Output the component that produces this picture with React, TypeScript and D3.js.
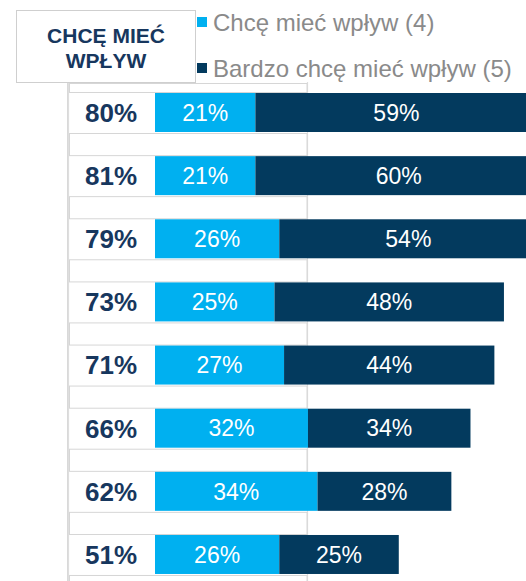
import React from "react";
import * as d3 from "d3";

const categories = ["r1", "r2", "r3", "r4", "r5", "r6", "r7", "r8"];
const totals = [80, 81, 79, 73, 71, 66, 62, 51];
const want = [21, 21, 26, 25, 27, 32, 34, 26];
const stronglyWant = [59, 60, 54, 48, 44, 34, 28, 25];
const seriesNames = ["Chcę mieć wpływ (4)", "Bardzo chcę mieć wpływ (5)"];
const headerLines = ["CHCĘ MIEĆ", "WPŁYW"];
const gridValues = [-18.2, 31.8];

const W = 526;
const H = 581;
const LIGHT = "#00B0F0";
const DARK = "#033A5E";
const NAVY = "#17375E";
const BORDER = "#d6d6d6";
const FONT = "'Liberation Sans', Arial, sans-serif";

export default function App() {
  const step = 63.14;
  const barH = 39;
  const gap = step - barH;
  const firstTop = 93;
  const y = d3
    .scaleBand<string>()
    .domain(categories)
    .range([firstTop - gap / 2, firstTop - gap / 2 + step * categories.length])
    .paddingInner(gap / step)
    .paddingOuter(gap / step / 2);

  const x = d3.scaleLinear().domain([0, 100]).range([155, 155 + 478]);
  const boxLeft = 69.5;
  const boxRight = x(31.8);
  const bw = y.bandwidth();

  return (
    <svg
      width={W}
      height={H}
      style={{ position: "absolute", left: 0, top: 0, background: "#fff" }}
      fontFamily={FONT}
    >
      <rect x={0} y={0} width={W} height={H} fill="#fff" />
      {gridValues.map((g, i) => (
        <line
          key={i}
          x1={Math.round(x(g)) + 0.5}
          x2={Math.round(x(g)) + 0.5}
          y1={82}
          y2={H}
          stroke="#dedede"
          strokeWidth={1.2}
        />
      ))}
      <rect
        x={boxLeft}
        y={83.5}
        width={boxRight - boxLeft}
        height={firstTop - 84}
        fill="#fff"
        stroke={BORDER}
      />
      {categories.map((c) => {
        const top = (y(c) as number) + bw + 1;
        return (
          <rect
            key={"gap" + c}
            x={boxLeft}
            y={top + 0.5}
            width={boxRight - boxLeft}
            height={gap - 2}
            fill="#fff"
            stroke={BORDER}
          />
        );
      })}
      {categories.map((c, i) => {
        const top = y(c) as number;
        const x0 = x(0);
        const x1 = x(want[i]);
        const x2 = x(want[i] + stronglyWant[i]);
        return (
          <g key={c}>
            <rect x={x0} y={top} width={x1 - x0} height={bw} fill={LIGHT} />
            <rect x={x1} y={top} width={x2 - x1} height={bw} fill={DARK} />
            <text
              x={(x0 + x1) / 2}
              y={top + bw / 2}
              dy="0.36em"
              textAnchor="middle"
              fill="#fff"
              fontSize={23}
            >
              {want[i]}%
            </text>
            <text
              x={(x1 + x2) / 2}
              y={top + bw / 2}
              dy="0.36em"
              textAnchor="middle"
              fill="#fff"
              fontSize={23}
            >
              {stronglyWant[i]}%
            </text>
            <text
              x={111}
              y={top + bw / 2}
              dy="0.36em"
              textAnchor="middle"
              fill={NAVY}
              fontSize={26}
              fontWeight="bold"
            >
              {totals[i]}%
            </text>
          </g>
        );
      })}
      <line x1={67.5} x2={67.5} y1={82} y2={H} stroke="#d9d9d9" strokeWidth={1} />
      <rect x={16.5} y={10.5} width={179} height={72} fill="#fff" stroke="#cfcfcf" />
      {headerLines.map((t, i) => (
        <text
          key={t}
          x={106}
          y={35 + i * 25}
          dy="0.36em"
          textAnchor="middle"
          fill={NAVY}
          fontSize={21}
          fontWeight="bold"
        >
          {t}
        </text>
      ))}
      {seriesNames.map((s, i) => (
        <g key={s} transform={`translate(197, ${22 + i * 46})`}>
          <rect x={0} y={-5} width={10} height={10} fill={i === 0 ? LIGHT : DARK} />
          <text x={16} y={0} dy="0.36em" fill="#8a8a8a" fontSize={24}>
            {s}
          </text>
        </g>
      ))}
    </svg>
  );
}
